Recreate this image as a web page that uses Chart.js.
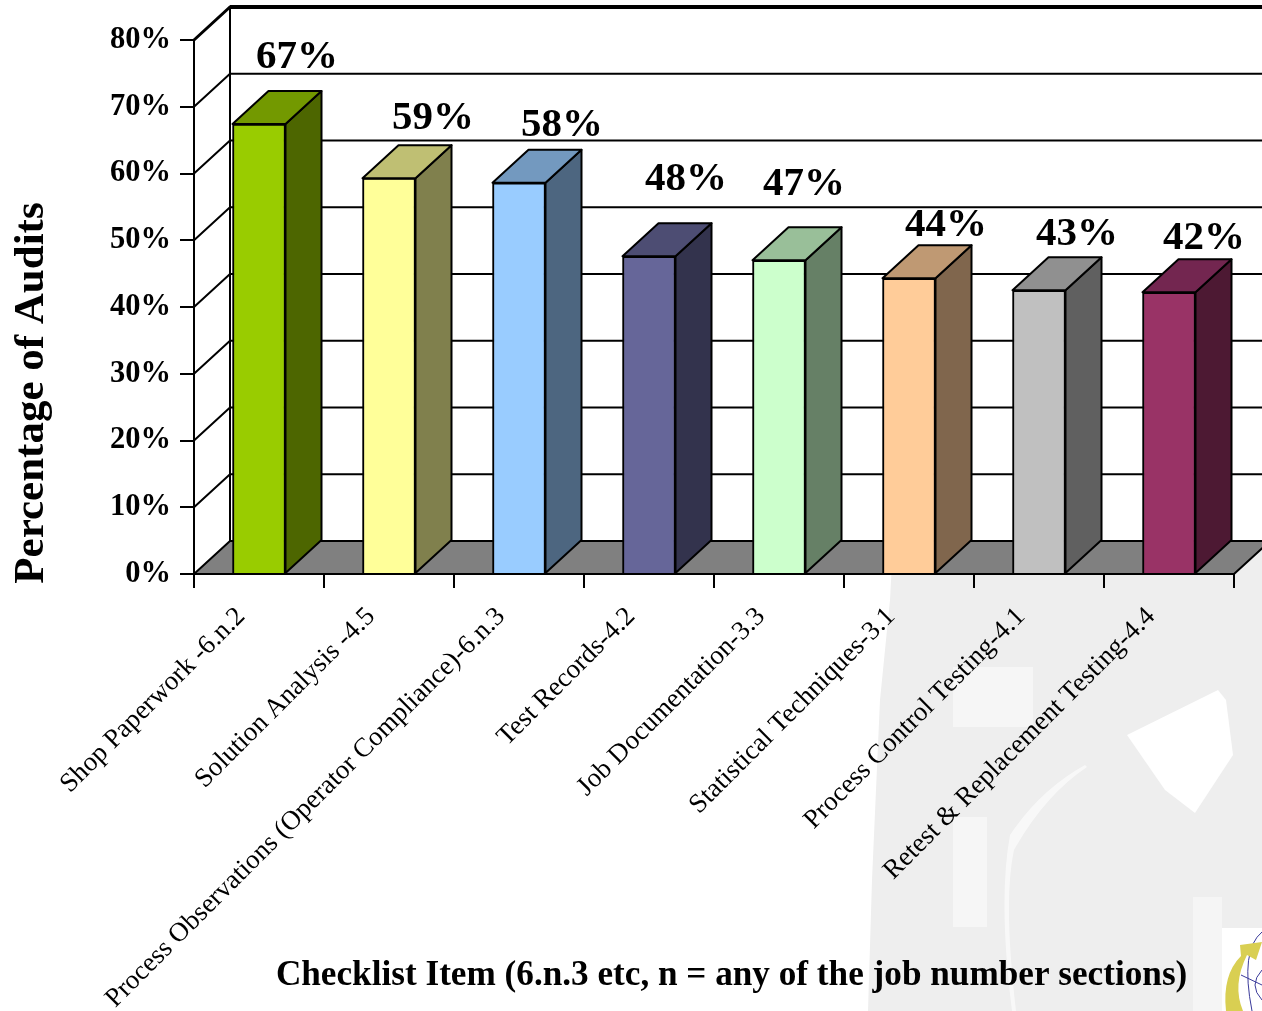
<!DOCTYPE html>
<html>
<head>
<meta charset="utf-8">
<style>
  html, body { margin: 0; padding: 0; background: #fff; overflow: hidden; }
  #wrap { position: relative; width: 1262px; height: 1011px; }
  #bg { position: absolute; left: 0; top: 0; }
  #chart3d { position: absolute; left: 0; top: 0; }
</style>
<script src="https://cdn.jsdelivr.net/npm/chart.js@4"></script>
</head>
<body>
<div id="wrap">
  <!-- faint watermark and logo corner behind the chart -->
  <svg id="bg" width="1262" height="1011">
    <path fill="#eeeeee" d="M868 1011 L872 880 L880 700 L890 600 L895 505 L1262 505 L1262 1011 Z"/>
    <g fill="#ffffff">
      <path d="M1127 735 L1218 690 L1226 700 L1233 755 L1195 813 L1165 790 Z"/>
      <path d="M953 667 L1033 667 L1033 727 L953 727 Z" opacity="0.45"/>
      <path d="M953 817 L987 817 L987 927 L953 927 Z" opacity="0.45"/>
      <path d="M1010 835 Q1040 790 1085 765 L1087 767 Q1045 795 1014 850 Q1003 900 1016 1011 L1012 1011 Q998 900 1010 835 Z" opacity="0.6"/>
      <path d="M1193 897 L1222 897 L1222 1011 L1193 1011 Z" opacity="0.4"/>
      <rect x="1222" y="928" width="40" height="83"/>
    </g>
    <path fill="none" stroke="#3a3a9a" stroke-width="1" d="M1262 932 Q1240 950 1252 1011 M1262 970 Q1248 985 1262 1000 M1241 975 L1262 985"/>
    <path fill="#d9cf52" d="M1240 945 L1262 942 L1256 960 L1247 955 Q1232 985 1243 1011 L1226 1011 Q1222 975 1241 956 Z"/>
  </svg>
  <canvas id="chart3d" width="1262" height="1011"></canvas>
</div>
<script>
const categories = [
  'Shop Paperwork -6.n.2',
  'Solution Analysis -4.5',
  'Process Observations (Operator Compliance)-6.n.3',
  'Test Records-4.2',
  'Job Documentation-3.3',
  'Statistical Techniques-3.1',
  'Process Control Testing-4.1',
  'Retest & Replacement Testing-4.4'
];
// heights as drawn in the picture, the printed labels are rounded differently
const auditValues = [67.4, 59.3, 58.6, 47.6, 47, 44.3, 42.5, 42.2];
const valueLabels = ['67%', '59%', '58%', '48%', '47%', '44%', '43%', '42%'];

const frontColors = ['#99cc00', '#ffff99', '#99ccff', '#666699', '#ccffcc', '#ffcc99', '#c0c0c0', '#993366'];
const sideColors = ['#4d6600', '#80804d', '#4d6680', '#33334d', '#668066', '#80664d', '#606060', '#4d1933'];
const topColors = ['#739900', '#bfbf73', '#7399bf', '#4d4d73', '#99bf99', '#bf9973', '#909090', '#732650'];

// shift of each printed label from its bar
const labelShiftX = [38, 44, 43, 37, 25, 37, 38, 35];
const labelShiftY = [67, 60, 57, 77, 76, 53, 56, 54];

const depthX = 36;
const depthY = 33;
const serif = '"Liberation Serif", "Times New Roman", serif';

const box3d = {
  id: 'box3d',
  beforeDatasetsDraw(chart) {
    const { ctx, scales: { x, y } } = chart;
    const right = chart.width + 10;
    const y0 = y.getPixelForValue(0);
    const yMax = y.getPixelForValue(80);

    ctx.save();
    // walls
    ctx.fillStyle = '#fff';
    ctx.beginPath();
    ctx.moveTo(x.left, y0);
    ctx.lineTo(x.left, yMax);
    ctx.lineTo(x.left + depthX, yMax - depthY);
    ctx.lineTo(right, yMax - depthY);
    ctx.lineTo(right, y0 - depthY);
    ctx.lineTo(x.right + depthX, y0 - depthY);
    ctx.closePath();
    ctx.fill();

    // floor
    ctx.fillStyle = '#808080';
    ctx.beginPath();
    ctx.moveTo(x.left, y0);
    ctx.lineTo(x.left + depthX, y0 - depthY);
    ctx.lineTo(x.right + depthX, y0 - depthY);
    ctx.lineTo(x.right, y0);
    ctx.closePath();
    ctx.fill();

    // grid lines run up the side wall and across the back wall
    ctx.strokeStyle = '#000';
    y.ticks.forEach(t => {
      const py = y.getPixelForValue(t.value);
      ctx.lineWidth = t.value === 80 ? 3 : 2;
      ctx.beginPath();
      ctx.moveTo(x.left, py);
      ctx.lineTo(x.left + depthX, py - depthY);
      ctx.lineTo(t.value === 0 ? x.right + depthX : right, py - depthY);
      ctx.stroke();
    });
    ctx.lineWidth = 4;
    ctx.beginPath();
    ctx.moveTo(x.left + depthX, yMax - depthY);
    ctx.lineTo(right, yMax - depthY);
    ctx.stroke();

    ctx.lineWidth = 2;
    ctx.beginPath();
    ctx.moveTo(x.left + depthX, yMax - depthY);
    ctx.lineTo(x.left + depthX, y0 - depthY);
    ctx.moveTo(x.right, y0);
    ctx.lineTo(x.right + depthX, y0 - depthY);
    // the walls painted over half of the axis lines
    ctx.moveTo(x.left, yMax);
    ctx.lineTo(x.left, y0);
    ctx.lineTo(x.right, y0);
    ctx.stroke();
    ctx.restore();
  },
  afterDatasetsDraw(chart) {
    const { ctx } = chart;
    const bars = chart.getDatasetMeta(0).data;
    ctx.save();
    ctx.strokeStyle = '#000';
    ctx.lineWidth = 2;
    ctx.lineJoin = 'round';
    bars.forEach((bar, i) => {
      const l = bar.x - bar.width / 2;
      const r = bar.x + bar.width / 2;
      const t = bar.y;
      const b = bar.base;
      // side face
      ctx.fillStyle = sideColors[i];
      ctx.beginPath();
      ctx.moveTo(r, t);
      ctx.lineTo(r + depthX, t - depthY);
      ctx.lineTo(r + depthX, b - depthY);
      ctx.lineTo(r, b);
      ctx.closePath();
      ctx.fill();
      ctx.stroke();
      // top face
      ctx.fillStyle = topColors[i];
      ctx.beginPath();
      ctx.moveTo(l, t);
      ctx.lineTo(l + depthX, t - depthY);
      ctx.lineTo(r + depthX, t - depthY);
      ctx.lineTo(r, t);
      ctx.closePath();
      ctx.fill();
      ctx.stroke();
    });
    // printed values
    ctx.fillStyle = '#000';
    ctx.font = 'bold 41px ' + serif;
    ctx.textAlign = 'center';
    ctx.textBaseline = 'middle';
    bars.forEach((bar, i) => {
      ctx.fillText(valueLabels[i], bar.x + labelShiftX[i], bar.y - labelShiftY[i]);
    });
    ctx.restore();
  }
};

new Chart(document.getElementById('chart3d'), {
  type: 'bar',
  data: {
    labels: categories,
    datasets: [{
      label: 'Percentage of Audits',
      data: auditValues,
      backgroundColor: frontColors,
      borderColor: '#000',
      borderWidth: 2,
      barThickness: 53
    }]
  },
  options: {
    responsive: false,
    animation: false,
    layout: { padding: { left: 0, top: 40, right: 28, bottom: 0 } },
    plugins: {
      legend: { display: false },
      tooltip: { enabled: false }
    },
    scales: {
      x: {
        afterFit: s => { s.height = 437; },
        border: { color: '#000', width: 2 },
        grid: { offset: true, drawOnChartArea: false, color: '#000', lineWidth: 2, tickLength: 14 },
        ticks: {
          autoSkip: false,
          maxRotation: 45,
          minRotation: 45,
          padding: 13,
          labelOffset: -18,
          color: '#000',
          font: { family: serif, size: 27 }
        },
        title: {
          display: true,
          // leading spaces: the title sits a little right of the axis centre
          text: '\u00a0\u00a0\u00a0\u00a0Checklist Item (6.n.3 etc, n = any of the job number sections)',
          color: '#000',
          font: { family: serif, size: 35.2, weight: 'bold' },
          padding: { top: 0, bottom: 14 }
        }
      },
      y: {
        min: 0,
        max: 80,
        afterFit: s => { s.width = 194; },
        border: { color: '#000', width: 2 },
        grid: { drawOnChartArea: false, color: '#000', lineWidth: 2, tickLength: 14 },
        ticks: {
          stepSize: 10,
          padding: 9,
          color: '#000',
          font: { family: serif, size: 30.5, weight: 'bold' },
          callback: v => v + '%'
        },
        title: {
          display: true,
          // trailing spaces push the title down the axis
          text: 'Percentage of Audits' + '\u00a0'.repeat(16),
          color: '#000',
          font: { family: serif, size: 43, weight: 'bold' },
          padding: { top: 6, bottom: 0 }
        }
      }
    }
  },
  plugins: [box3d]
});
</script>
</body>
</html>
